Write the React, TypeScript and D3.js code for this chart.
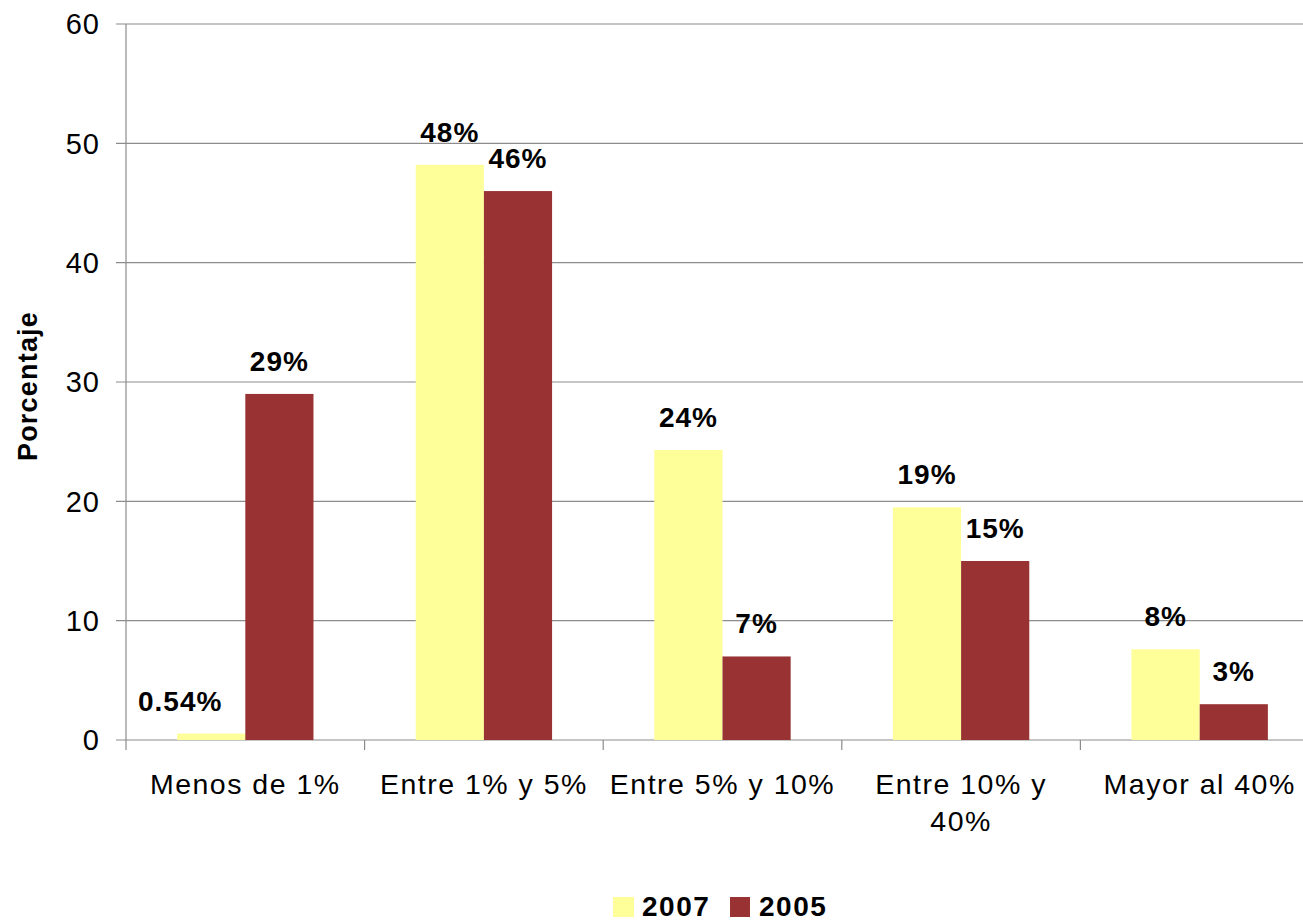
import React from "react";
import * as d3 from "d3";

const categories: string[][] = [
  ["Menos de 1%"],
  ["Entre 1% y 5%"],
  ["Entre 5% y 10%"],
  ["Entre 10% y", "40%"],
  ["Mayor al 40%"],
];
const seriesNames = ["2007", "2005"];
const values2007 = [0.54, 48.2, 24.3, 19.5, 7.6];
const values2005 = [29, 46, 7, 15, 3];
const labels2007 = ["0.54%", "48%", "24%", "19%", "8%"];
const labels2005 = ["29%", "46%", "7%", "15%", "3%"];
const yTicks = [0, 10, 20, 30, 40, 50, 60];
const colors = ["#FFFF99", "#993333"];

const W = 1303;
const H = 923;
const FONT = "'Liberation Sans', Arial, sans-serif";

export default function App() {
  const left = 126;
  const right = 1319;
  const top = 24;
  const bottom = 740;
  const catKeys = categories.map((_, i) => String(i));
  const x0 = d3.scaleBand<string>().domain(catKeys).range([left, right]).padding(0);
  const x1 = d3
    .scaleBand<string>()
    .domain(seriesNames)
    .range([0, x0.bandwidth()])
    .paddingInner(0)
    .paddingOuter(0.75);
  const y = d3.scaleLinear().domain([0, 60]).range([bottom, top]);
  const series = [
    { name: seriesNames[0], vals: values2007, labels: labels2007, color: colors[0] },
    { name: seriesNames[1], vals: values2005, labels: labels2005, color: colors[1] },
  ];
  const grid = "#8c8c8c";

  return (
    <svg
      width={W}
      height={H}
      style={{ position: "absolute", left: 0, top: 0, display: "block", background: "#fff" }}
      fontFamily={FONT}
    >
      {yTicks.map((t) => (
        <g key={t}>
          <line x1={left - 10} x2={W} y1={y(t)} y2={y(t)} stroke={grid} strokeWidth={1.2} />
          <text
            x={100}
            y={y(t)}
            dy="0.36em"
            textAnchor="end"
            fontSize={29}
            letterSpacing={1}
            fill="#000"
          >
            {t}
          </text>
        </g>
      ))}
      <line x1={left} x2={left} y1={top} y2={bottom} stroke={grid} strokeWidth={1.2} />
      {catKeys.map((k) => (
        <line
          key={"ct" + k}
          x1={x0(k)!}
          x2={x0(k)!}
          y1={bottom}
          y2={bottom + 10}
          stroke={grid}
          strokeWidth={1.2}
        />
      ))}
      {series.map((s) =>
        catKeys.map((k, i) => (
          <rect
            key={s.name + k}
            x={x0(k)! + x1(s.name)!}
            y={y(s.vals[i])}
            width={x1.bandwidth()}
            height={y(0) - y(s.vals[i])}
            fill={s.color}
          />
        ))
      )}
      {series.map((s, si) =>
        catKeys.map((k, i) => {
          let cx = x0(k)! + x1(s.name)! + x1.bandwidth() / 2;
          if (si === 0 && i === 0) cx -= 31;
          return (
            <text
              key={"l" + s.name + k}
              x={cx}
              y={y(s.vals[i]) - 23}
              textAnchor="middle"
              fontSize={28}
              fontWeight="bold"
              letterSpacing={1}
              fill="#000"
            >
              {s.labels[i]}
            </text>
          );
        })
      )}
      {categories.map((lines, i) => (
        <text
          key={"c" + i}
          x={x0(String(i))! + x0.bandwidth() / 2}
          y={794}
          textAnchor="middle"
          fontSize={28.5}
          letterSpacing={1.5}
          fill="#000"
        >
          {lines.map((ln, j) => (
            <tspan key={j} x={x0(String(i))! + x0.bandwidth() / 2} dy={j === 0 ? 0 : 37}>
              {ln}
            </tspan>
          ))}
        </text>
      ))}
      <text
        transform={`translate(37, 386) rotate(-90)`}
        textAnchor="middle"
        fontSize={27}
        fontWeight="bold"
        letterSpacing={1.2}
        fill="#000"
      >
        Porcentaje
      </text>
      <g>
        <rect x={613} y={897} width={21} height={20} fill={colors[0]} />
        <text x={642} y={916} fontSize={28} fontWeight="bold" letterSpacing={1.5} fill="#000">
          {seriesNames[0]}
        </text>
        <rect x={730} y={897} width={20} height={20} fill={colors[1]} />
        <text x={759} y={916} fontSize={28} fontWeight="bold" letterSpacing={1.5} fill="#000">
          {seriesNames[1]}
        </text>
      </g>
    </svg>
  );
}
